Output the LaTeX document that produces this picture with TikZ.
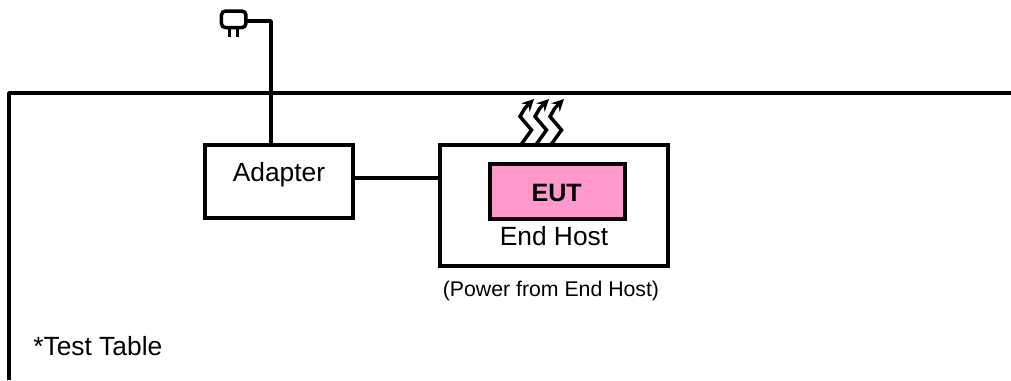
\documentclass[tikz,border=0pt]{standalone}
\usepackage{fontspec}
\setmainfont{Liberation Sans}
\tikzset{
	boxnode/.style={draw=black, line width=0.07cm, outer sep=0pt, inner sep=0pt},
	wire/.style={line width=0.07cm, line join=round},
	heat/.style={line width=0.07cm, -stealth, line join=miter},
	caption/.style={anchor=base, inner sep=0pt, font=\fontsize{15}{15}\selectfont}
}

\begin{document}
\begin{tikzpicture}[x=0.02cm, y=-0.02cm]
			%%%%% START %%%%%
			
			\useasboundingbox (0, 0) rectangle (1011, 380);
			
			\draw[wire] (9, 380) -- (9, 93) -- (1011, 93);
			\node[caption, anchor=base west] (tableText) at (33, 355) {*Test Table};
			
			\node[boxnode, minimum width=2.96cm, minimum height=1.46cm] (adapter) at (279, 181.5) {};
			\node[caption] (adapterText) at (279, 181.7) {Adapter};
			
			\node[boxnode, minimum width=4.56cm, minimum height=2.42cm] (host) at (554, 205.5) {};
			\node[boxnode, fill={rgb,255:red,255;green,153;blue,204}, minimum width=2.7cm, minimum height=1.1cm] (eut) at (557.5, 191.5) {};
			\node[caption, font=\fontsize{14.3}{15}\selectfont\bfseries] (eutText) at (556.7, 201.7) {EUT};
			\node[caption] (hostText) at (554, 245) {End Host};
			\node[caption, font=\fontsize{12.1}{15}\selectfont] (powerText) at (551, 296.7) {(Power from End Host)};
			
			\coordinate (jack) at (400, 178);
			\draw[wire] (jack -| adapter.east) -- (jack -| host.west);
			
			\node[boxnode, rounded corners=0.08cm, minimum width=0.49cm, minimum height=0.33cm] (plug) at (233.7, 19.3) {};
			\coordinate (bend) at (271, 21);
			\draw[wire] (plug.east |- bend) -- (bend) -- (bend |- adapter.north);
			\draw[line width=0.06cm] (229.5, 28) -- (229.5, 37);
			\draw[line width=0.06cm] (237.7, 28) -- (237.7, 37);
			
			\draw[heat] (521.5, 144) -- (531.5, 130) -- (520, 116.5) -- (525, 108) -- (534, 99);
			\draw[heat] (536.5, 144) -- (546.5, 130) -- (535, 116.5) -- (540, 108) -- (549, 99);
			\draw[heat] (551.5, 144) -- (561.5, 130) -- (550, 116.5) -- (555, 108) -- (564, 99);
			
			%%%%% END %%%%%
		\end{tikzpicture}
\end{document}
